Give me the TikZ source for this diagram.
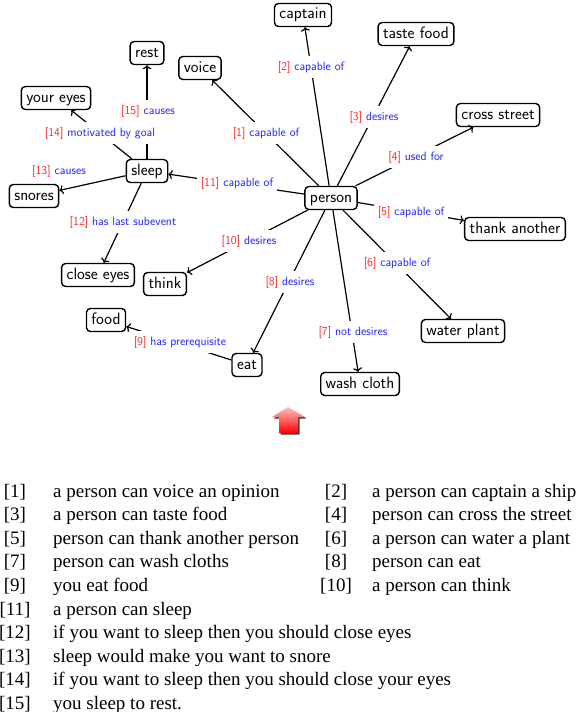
\documentclass[tikz,border=0pt]{standalone}
\usepackage{fontspec}
\setmainfont{Liberation Serif}
\usetikzlibrary{arrows.meta}
\definecolor{lblred}{RGB}{255,40,40}
\definecolor{lblblue}{RGB}{30,30,255}
\begin{document}
\begin{tikzpicture}[x=1pt,y=-1pt,
  cnode/.style={draw, line width=1.4pt, rounded corners=4pt, font=\sffamily\fontsize{16.5}{18}\selectfont,
    text height=11.5pt, text depth=3.5pt, inner xsep=5pt, inner ysep=4pt, fill=white},
  rel/.style={line width=1.2pt, -{To[length=4pt,width=9pt]}},
  lbl/.style={fill=white, font=\sffamily\fontsize{12}{14}\selectfont, inner xsep=4pt, inner ysep=5pt},
  lst/.style={font=\fontsize{19}{22}\selectfont, inner sep=0pt}]
\useasboundingbox (0,0) rectangle (578,712);
\newcommand{\rl}[2]{\textcolor{lblred}{[#1]} \textcolor{lblblue}{#2}}
% concept nodes
\node[cnode] (captain) at (303,15) {captain};
\node[cnode] (taste) at (416,34) {taste food};
\node[cnode] (rest) at (147,53) {rest};
\node[cnode] (voice) at (200,68) {voice};
\node[cnode] (youreyes) at (56,98) {your eyes};
\node[cnode] (cross) at (498,115) {cross street};
\node[cnode] (sleep) at (147,171) {sleep};
\node[cnode] (snores) at (34,196) {snores};
\node[cnode] (person) at (331,198) {person};
\node[cnode] (thank) at (515,229) {thank another};
\node[cnode] (closeeyes) at (98,275) {close eyes};
\node[cnode] (think) at (165,284) {think};
\node[cnode] (food) at (106,320) {food};
\node[cnode] (water) at (463,331) {water plant};
\node[cnode] (eat) at (247,365) {eat};
\node[cnode] (wash) at (360,384) {wash cloth};
% relations
\draw[rel] (person) -- (voice);
\draw[rel] (person) -- (captain);
\draw[rel] (person) -- (taste);
\draw[rel] (person) -- (cross);
\draw[rel] (person) -- (thank);
\draw[rel] (person) -- (water);
\draw[rel] (person) -- (wash);
\draw[rel] (person) -- (eat);
\draw[rel] (eat) -- (food);
\draw[rel] (person) -- (think);
\draw[rel] (person) -- (sleep);
\draw[rel] (sleep) -- (closeeyes);
\draw[rel] (sleep) -- (snores);
\draw[rel] (sleep) -- (youreyes);
\draw[rel] (sleep) -- (rest);
% relation labels
\node[lbl] (l1) at (266,133) {\rl{1}{capable of}};
\node[lbl] (l2) at (311,67) {\rl{2}{capable of}};
\node[lbl] (l3) at (374,117) {\rl{3}{desires}};
\node[lbl] (l4) at (416,157) {\rl{4}{used for}};
\node[lbl] (l5) at (411,212) {\rl{5}{capable of}};
\node[lbl] (l6) at (397,263) {\rl{6}{capable of}};
\node[lbl] (l7) at (353,332) {\rl{7}{not desires}};
\node[lbl] (l8) at (290,282) {\rl{8}{desires}};
\node[lbl] (l9) at (180,342) {\rl{9}{has prerequisite}};
\node[lbl] (l10) at (249,241) {\rl{10}{desires}};
\node[lbl] (l11) at (237,183) {\rl{11}{capable of}};
\node[lbl] (l12) at (123,222) {\rl{12}{has last subevent}};
\node[lbl] (l13) at (59,171) {\rl{13}{causes}};
\node[lbl] (l14) at (100,133) {\rl{14}{motivated by goal}};
\node[lbl] (l15) at (148,111) {\rl{15}{causes}};
% red arrow
\fill[black!75] (289.5,408.5) -- (306.5,418.5) -- (299.5,418.5) -- (299.5,434.5) -- (280.5,434.5) -- (280.5,418.5) -- (273.5,418.5) -- cycle;
\shade[top color=red!25, middle color=red!55, bottom color=red]
  (288,407) -- (305,417) -- (298,417) -- (298,433) -- (279,433) -- (279,417) -- (272,417) -- cycle;
% legend
\node[lst, anchor=base] (n1) at (15,497) {[1]};
\node[lst, anchor=base west] (t1) at (53,497) {a person can voice an opinion};
\node[lst, anchor=base] (n2) at (336,497) {[2]};
\node[lst, anchor=base west] (t2) at (372,497) {a person can captain a ship};
\node[lst, anchor=base] (n3) at (15,520.6) {[3]};
\node[lst, anchor=base west] (t3) at (53,520.6) {a person can taste food};
\node[lst, anchor=base] (n4) at (336,520.6) {[4]};
\node[lst, anchor=base west] (t4) at (372,520.6) {person can cross the street};
\node[lst, anchor=base] (n5) at (15,544.2) {[5]};
\node[lst, anchor=base west] (t5) at (53,544.2) {person can thank another person};
\node[lst, anchor=base] (n6) at (336,544.2) {[6]};
\node[lst, anchor=base west] (t6) at (372,544.2) {a person can water a plant};
\node[lst, anchor=base] (n7) at (15,567.8) {[7]};
\node[lst, anchor=base west] (t7) at (53,567.8) {person can wash cloths};
\node[lst, anchor=base] (n8) at (336,567.8) {[8]};
\node[lst, anchor=base west] (t8) at (372,567.8) {person can eat};
\node[lst, anchor=base] (n9) at (15,591.4) {[9]};
\node[lst, anchor=base west] (t9) at (53,591.4) {you eat food};
\node[lst, anchor=base] (n10) at (336,591.4) {[10]};
\node[lst, anchor=base west] (t10) at (372,591.4) {a person can think};
\node[lst, anchor=base] (n11) at (15,615) {[11]};
\node[lst, anchor=base west] (t11) at (53,615) {a person can sleep};
\node[lst, anchor=base] (n12) at (15,638.6) {[12]};
\node[lst, anchor=base west] (t12) at (53,638.6) {if you want to sleep then you should close eyes};
\node[lst, anchor=base] (n13) at (15,662.2) {[13]};
\node[lst, anchor=base west] (t13) at (53,662.2) {sleep would make you want to snore};
\node[lst, anchor=base] (n14) at (15,685.8) {[14]};
\node[lst, anchor=base west] (t14) at (53,685.8) {if you want to sleep then you should close your eyes};
\node[lst, anchor=base] (n15) at (15,709.4) {[15]};
\node[lst, anchor=base west] (t15) at (53,709.4) {you sleep to rest.};
\end{tikzpicture}
\end{document}
